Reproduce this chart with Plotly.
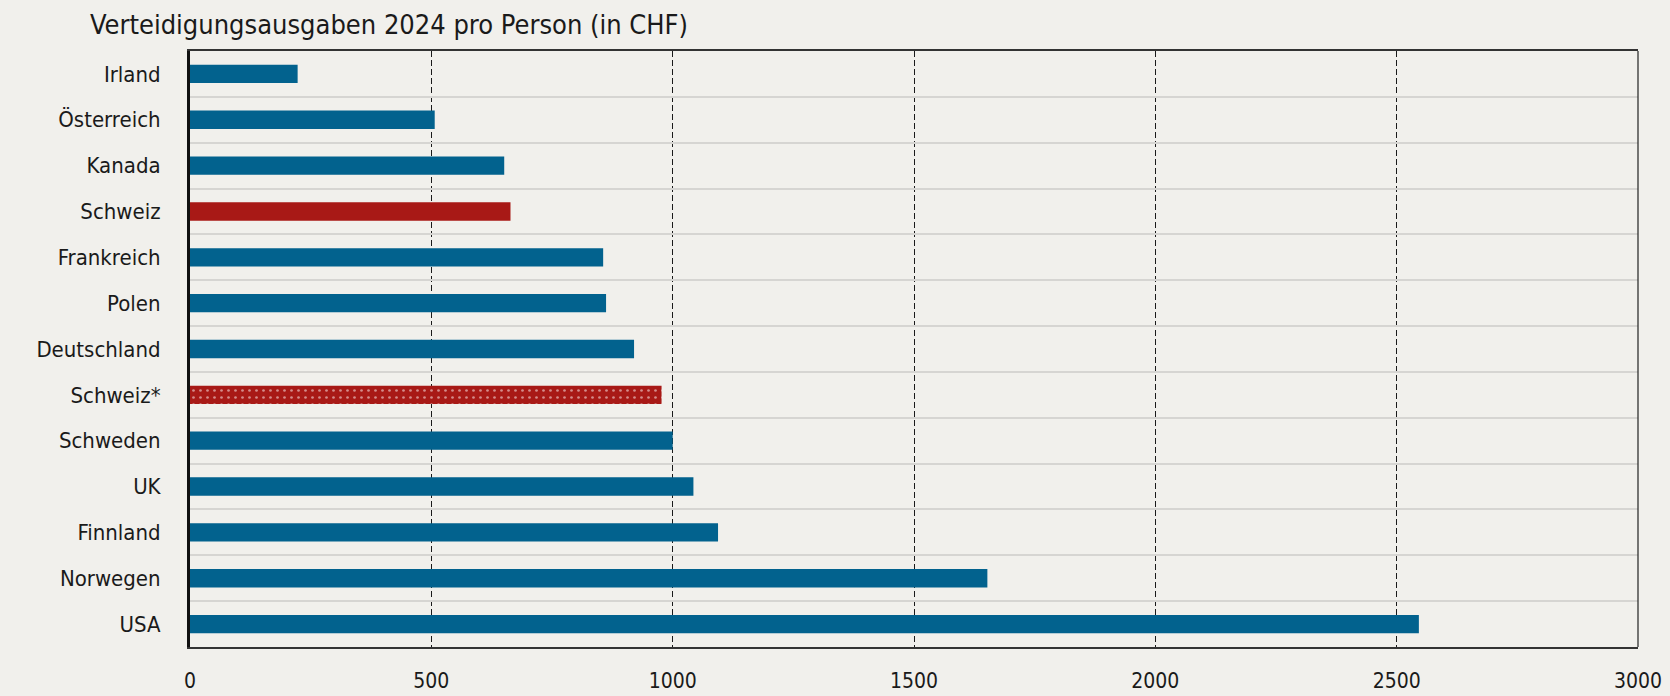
import plotly.graph_objects as go

countries = ["Irland", "Österreich", "Kanada", "Schweiz", "Frankreich", "Polen",
             "Deutschland", "Schweiz*", "Schweden", "UK", "Finnland", "Norwegen", "USA"]
values = [223, 507, 651, 664, 856, 862, 920, 977, 1000, 1043, 1094, 1652, 2546]
x_ticks = [0, 500, 1000, 1500, 2000, 2500, 3000]
title_text = "Verteidigungsausgaben 2024 pro Person (in CHF)"

BLUE = "#02628E"
RED = "#A81916"
BG = "#F1F0EC"
FONT = "DejaVu Sans Condensed, Liberation Sans Narrow, Arial Narrow, sans-serif"

plain_idx = [i for i, c in enumerate(countries) if c != "Schweiz*"]
dotted_idx = [i for i, c in enumerate(countries) if c == "Schweiz*"]

fig = go.Figure()
fig.add_trace(go.Bar(
    x=[values[i] for i in plain_idx], y=[countries[i] for i in plain_idx],
    orientation="h", width=0.4,
    marker=dict(color=[RED if countries[i].startswith("Schweiz") else BLUE for i in plain_idx],
                line=dict(width=0)),
    hoverinfo="x+y",
))
fig.add_trace(go.Bar(
    x=[values[i] for i in dotted_idx], y=[countries[i] for i in dotted_idx],
    orientation="h", width=0.4,
    marker=dict(color=RED, line=dict(width=0),
                pattern=dict(shape=".", fgcolor="white", bgcolor=RED,
                             size=7, solidity=0.12, fillmode="overlay")),
    hoverinfo="x+y",
))

fig.update_layout(
    width=1670, height=696,
    barmode="overlay",
    paper_bgcolor=BG, plot_bgcolor=BG,
    margin=dict(l=190, r=32, t=51, b=49, autoexpand=False),
    showlegend=False,
    font=dict(family=FONT, size=21, color="#1a1a1a"),
    annotations=[dict(text=title_text, xref="paper", yref="paper",
                      x=-0.0705, y=1.0, xanchor="left", yanchor="bottom", yshift=9,
                      showarrow=False, font=dict(family=FONT, size=27, color="#1a1a1a"))],
    shapes=[dict(type="line", xref="paper", yref="paper", x0=1, x1=1, y0=0, y1=1,
                 line=dict(color="#222", width=1.2))],
)

fig.update_xaxes(
    range=[0, 3000], tickvals=x_ticks, ticktext=[str(v) for v in x_ticks],
    showgrid=True, gridcolor="#1a1a1a", griddash="6px,3px", gridwidth=1,
    showline=True, linecolor="#333", linewidth=1.5, mirror=True,
    zeroline=False, ticks="", ticklabelstandoff=14, automargin=False,
    tickfont=dict(family=FONT, size=21),
)
fig.update_yaxes(
    type="category", categoryorder="array", categoryarray=countries,
    autorange="reversed", automargin=False,
    tickson="boundaries", showgrid=True, gridcolor="#D6D5D2", gridwidth=1.5,
    showline=True, linecolor="#111", linewidth=3,
    ticks="", ticklabelstandoff=22,
    tickfont=dict(family=FONT, size=22),
)

fig.write_html("out.html",
               config={"displayModeBar": False},
               post_script="document.body.style.margin='0';"
                           "document.body.style.background='#F1F0EC';")
